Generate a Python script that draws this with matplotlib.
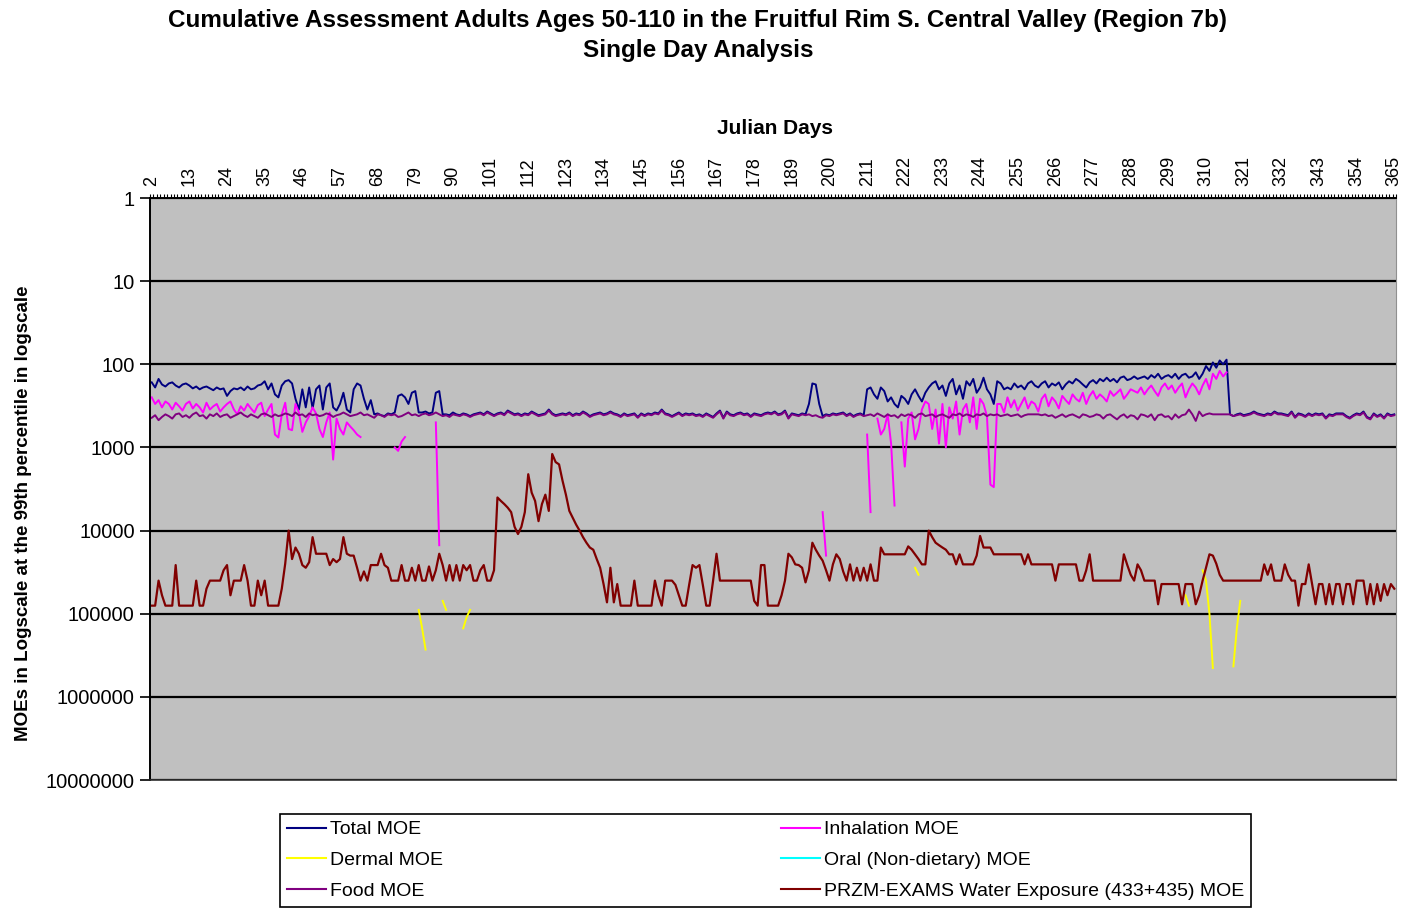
import numpy as np
import matplotlib.pyplot as plt
from matplotlib.lines import Line2D

plt.rcParams["font.family"] = ["Liberation Sans", "DejaVu Sans"]

nan = np.nan
days = np.arange(2, 366)
tick_days = list(range(2, 366, 11))
y_ticks = [1, 10, 100, 1000, 10000, 100000, 1000000, 10000000]
y_labels = ["1", "10", "100", "1000", "10000", "100000", "1000000", "10000000"]

# Food MOE, one value per day 2..365
food_moe = [
    440, 410, 470, 430, 400, 420, 450, 400, 390, 430,
    410, 440, 400, 380, 420, 410, 450, 400, 420, 390,
    430, 410, 400, 440, 420, 400, 380, 410, 430, 400,
    420, 440, 400, 390, 410, 430, 400, 420, 410, 390,
    400, 420, 380, 410, 400, 430, 390, 410, 400, 420,
    410, 390, 400, 430, 410, 400, 380, 400, 420, 410,
    400, 380, 410, 400, 420, 440, 400, 410, 430, 400,
    410, 400, 430, 420, 400, 380, 410, 400, 420, 400,
    390, 410, 400, 380, 400, 420, 410, 430, 400, 410,
    420, 400, 410, 430, 410, 400, 390, 410, 380, 400,
    420, 400, 390, 410, 370, 390, 410, 400, 420, 400,
    410, 380, 400, 420, 410, 400, 360, 400, 420, 410,
    400, 410, 390, 420, 400, 410, 380, 400, 430, 410,
    400, 390, 410, 400, 380, 400, 410, 430, 400, 420,
    410, 400, 440, 400, 420, 400, 410, 390, 400, 360,
    400, 410, 430, 410, 390, 420, 400, 410, 400, 420,
    410, 430, 400, 420, 440, 400, 370, 450, 380, 410,
    420, 400, 390, 410, 400, 430, 400, 410, 420, 400,
    390, 400, 380, 410, 400, 370, 450, 400, 410, 420,
    400, 410, 400, 420, 410, 430, 440, 410, 420, 400,
    410, 400, 390, 420, 400, 430, 410, 400, 420, 410,
    400, 420, 390, 410, 430, 400, 420, 410, 440, 400,
    420, 400, 410, 440, 400, 390, 420, 410, 400, 430,
    410, 400, 420, 440, 400, 410, 390, 420, 400, 410,
    430, 400, 410, 390, 420, 400, 410, 400, 420, 410,
    400, 420, 410, 400, 430, 410, 400, 400, 400, 400,
    410, 400, 420, 410, 440, 420, 400, 430, 410, 400,
    420, 440, 400, 410, 430, 420, 400, 410, 450, 410,
    400, 430, 460, 420, 400, 440, 410, 420, 460, 400,
    410, 430, 400, 470, 410, 400, 430, 420, 460, 400,
    440, 410, 400, 350, 400, 480, 370, 420, 400, 390,
    400, 400, 400, 400, 400, 400, 420, 410, 400, 420,
    410, 400, 380, 400, 410, 420, 400, 410, 380, 400,
    400, 410, 420, 380, 440, 400, 410, 430, 400, 420,
    400, 410, 400, 450, 410, 420, 400, 400, 400, 430,
    450, 420, 400, 410, 380, 440, 460, 400, 430, 410,
    450, 400, 420, 410,
]

# Total MOE, one value per day 2..365
total_moe = [
    165, 190, 150, 175, 185, 170, 165, 180, 190, 175,
    170, 180, 195, 185, 200, 190, 185, 195, 205, 190,
    200, 195, 240, 210, 195, 200, 190, 205, 185, 200,
    195, 180, 175, 160, 200, 170, 230, 250, 180, 160,
    155, 170, 260, 350, 200, 330, 190, 340, 200, 180,
    350, 190, 170, 330, 360, 300, 220, 350, 380, 200,
    170, 180, 260, 350, 270, 400, 390, 410, 420, 390,
    400, 380, 240, 230, 250, 300, 220, 210, 380, 380,
    370, 390, 380, 220, 210, 400, 400, 410, 380, 400,
    410, 390, 400, 420, 400, 390, 380, 400, 370, 390,
    410, 390, 380, 400, 360, 380, 400, 390, 410, 390,
    400, 370, 390, 410, 400, 390, 350, 390, 410, 400,
    390, 400, 380, 410, 390, 400, 370, 390, 420, 400,
    390, 380, 400, 390, 370, 390, 400, 420, 390, 410,
    400, 390, 430, 390, 410, 390, 400, 380, 390, 350,
    390, 400, 420, 400, 380, 410, 390, 400, 390, 410,
    400, 420, 390, 410, 430, 390, 360, 440, 370, 400,
    410, 390, 380, 400, 390, 420, 390, 400, 410, 390,
    380, 390, 370, 400, 390, 360, 440, 390, 400, 410,
    390, 400, 300, 170, 175, 300, 420, 400, 410, 390,
    400, 390, 380, 410, 390, 420, 400, 390, 410, 200,
    190, 230, 260, 190, 210, 280, 250, 300, 330, 240,
    260, 300, 230, 200, 240, 280, 220, 190, 170, 160,
    200, 180, 240, 170, 150, 230, 180, 260, 160, 180,
    150, 220, 190, 145, 200, 230, 300, 160, 170, 200,
    190, 200, 170, 190, 180, 200, 170, 160, 180, 190,
    170, 160, 190, 170, 180, 165, 200, 175, 160, 170,
    150, 160, 175, 190, 165, 155, 170, 150, 160, 145,
    160, 150, 165, 145, 140, 155, 150, 140, 150, 145,
    140, 150, 135, 145, 130, 150, 140, 135, 145, 130,
    150, 135, 130, 145, 140, 125, 150, 130, 105, 120,
    95, 110, 90, 100, 88, 400, 420, 400, 390, 410,
    400, 390, 370, 390, 400, 410, 390, 400, 370, 390,
    390, 400, 410, 370, 430, 390, 400, 420, 390, 410,
    390, 400, 390, 440, 400, 410, 390, 390, 390, 420,
    440, 410, 390, 400, 370, 430, 450, 390, 420, 400,
    440, 390, 410, 400,
]

# PRZM-EXAMS water exposure MOE, one value per day 2..365
water_moe = [
    8e4, 8e4, 4e4, 6e4, 8e4, 8e4, 8e4, 2.6e4, 8e4, 8e4,
    8e4, 8e4, 8e4, 4e4, 8e4, 8e4, 5e4, 4e4, 4e4, 4e4,
    4e4, 3e4, 2.6e4, 6e4, 4e4, 4e4, 4e4, 2.6e4, 4e4, 8e4,
    8e4, 4e4, 6e4, 4e4, 8e4, 8e4, 8e4, 8e4, 5e4, 2.5e4,
    1e4, 2.2e4, 1.6e4, 1.9e4, 2.6e4, 2.8e4, 2.4e4, 1.2e4, 1.9e4, 1.9e4,
    1.9e4, 1.9e4, 2.6e4, 2.2e4, 2.4e4, 2.2e4, 1.2e4, 1.9e4, 2e4, 2e4,
    2.8e4, 4e4, 3.1e4, 4e4, 2.6e4, 2.6e4, 2.6e4, 1.9e4, 2.6e4, 2.8e4,
    4e4, 4e4, 4e4, 2.6e4, 4e4, 4e4, 2.8e4, 4e4, 2.6e4, 4e4,
    4e4, 2.7e4, 4e4, 3e4, 1.9e4, 2.6e4, 4e4, 2.6e4, 4e4, 2.6e4,
    4e4, 2.6e4, 3e4, 2.6e4, 4e4, 4e4, 3e4, 2.6e4, 4e4, 4e4,
    3e4, 4e3, 4.4e3, 4.8e3, 5.3e3, 6e3, 9e3, 1.1e4, 9e3, 6e3,
    2.1e3, 3.5e3, 4.4e3, 7.7e3, 4.8e3, 3.7e3, 5.8e3, 1.2e3, 1.5e3, 1.6e3,
    2.5e3, 3.7e3, 5.8e3, 7e3, 8.5e3, 1e4, 1.2e4, 1.4e4, 1.6e4, 1.7e4,
    2.2e4, 2.8e4, 4.4e4, 7.3e4, 2.8e4, 7.3e4, 4.4e4, 8e4, 8e4, 8e4,
    8e4, 4e4, 8e4, 8e4, 8e4, 8e4, 8e4, 4e4, 6e4, 8e4,
    4e4, 4e4, 4e4, 4.5e4, 6e4, 8e4, 8e4, 4.5e4, 2.6e4, 2.8e4,
    2.6e4, 4.5e4, 8e4, 8e4, 4e4, 1.9e4, 4e4, 4e4, 4e4, 4e4,
    4e4, 4e4, 4e4, 4e4, 4e4, 4e4, 7e4, 8e4, 2.6e4, 2.6e4,
    8e4, 8e4, 8e4, 8e4, 6e4, 4e4, 1.9e4, 2.1e4, 2.55e4, 2.6e4,
    2.8e4, 4.2e4, 3e4, 1.4e4, 1.7e4, 2e4, 2.3e4, 3e4, 4e4, 2.55e4,
    1.93e4, 2.2e4, 3.1e4, 4e4, 2.55e4, 4e4, 2.8e4, 4e4, 2.8e4, 4e4,
    2.55e4, 4e4, 4e4, 1.6e4, 1.93e4, 1.93e4, 1.93e4, 1.93e4, 1.93e4, 1.93e4,
    1.93e4, 1.55e4, 1.7e4, 1.93e4, 2.2e4, 2.55e4, 2.55e4, 1e4, 1.2e4, 1.4e4,
    1.5e4, 1.6e4, 1.7e4, 1.93e4, 1.93e4, 2.55e4, 1.93e4, 2.55e4, 2.55e4, 2.55e4,
    2.55e4, 2e4, 1.16e4, 1.6e4, 1.6e4, 1.6e4, 1.93e4, 1.93e4, 1.93e4, 1.93e4,
    1.93e4, 1.93e4, 1.93e4, 1.93e4, 1.93e4, 2.55e4, 1.93e4, 2.55e4, 2.55e4, 2.55e4,
    2.55e4, 2.55e4, 2.55e4, 2.55e4, 4e4, 2.55e4, 2.55e4, 2.55e4, 2.55e4, 2.55e4,
    2.55e4, 4e4, 4e4, 3e4, 1.93e4, 4e4, 4e4, 4e4, 4e4, 4e4,
    4e4, 4e4, 4e4, 4e4, 1.93e4, 2.6e4, 3.4e4, 4e4, 2.55e4, 3e4,
    4e4, 4e4, 4e4, 4e4, 7.7e4, 4.4e4, 4.4e4, 4.4e4, 4.4e4, 4.4e4,
    4.4e4, 7.7e4, 4.4e4, 4.4e4, 4.4e4, 7.7e4, 6e4, 4e4, 2.8e4, 1.93e4,
    2e4, 2.5e4, 3.4e4, 4e4, 4e4, 4e4, 4e4, 4e4, 4e4, 4e4,
    4e4, 4e4, 4e4, 4e4, 4e4, 2.55e4, 3.4e4, 2.55e4, 4e4, 4e4,
    4e4, 2.55e4, 3.4e4, 4e4, 4e4, 8e4, 4.4e4, 4.4e4, 2.55e4, 4.4e4,
    7.7e4, 4.4e4, 4.4e4, 7.7e4, 4.4e4, 7.7e4, 4.4e4, 4.4e4, 7.7e4, 4.4e4,
    4.4e4, 7.7e4, 4e4, 4e4, 4e4, 7.7e4, 4.4e4, 7.7e4, 4.4e4, 7e4,
    4.4e4, 6e4, 4.4e4, 5e4,
]

# Inhalation MOE: first day of each run -> values (no value on other days)
inhalation_runs = {
    2: [250, 300, 270, 330, 280, 300, 350, 290, 320, 360,
        300, 280, 340, 300, 330, 380, 290, 350, 320, 300,
        370, 330, 300, 280, 350, 400, 320, 360, 300, 340,
        380, 310, 290, 420, 350, 300, 700, 760, 400, 290,
        600, 620, 300, 380, 650, 500, 420, 330, 390, 600,
        750, 500, 380, 1400, 450, 600, 700, 500, 560, 620,
        700, 750],
    73: [1000, 1100, 850, 750],
    85: [500, 15000],
    198: [6000, 20000],
    211: [700, 6000],
    214: [450, 700, 600, 400, 900, 5000],
    221: [500, 1700, 450, 380, 800, 600, 350, 280, 300, 600,
          350, 900, 300, 1000, 330, 450, 280, 700, 350, 300,
          500, 250, 600, 260, 300, 420, 2800, 3000, 300,
          300, 380, 250, 330, 270, 360, 300, 250, 340, 280,
          300, 370, 260, 230, 320, 250, 280, 340, 240, 270,
          300, 230, 260, 280, 220, 300, 240, 210, 260, 230,
          250, 280, 210, 240, 220, 200, 260, 230, 200, 210,
          220, 190, 230, 200, 180, 210, 240, 190, 170, 200,
          180, 220, 190, 170, 250, 200, 170, 190, 230, 180,
          150, 200, 130, 150, 120, 140, 125],
}

# Dermal MOE runs
dermal_runs = {
    80: [9e4, 1.5e5, 2.7e5],
    87: [7e4, 9e4],
    93: [1.5e5, 1.1e5, 9e4],
    225: [2.8e4, 3.4e4],
    304: [6e4, 8e4],
    309: [3e4, 4e4, 1e5, 4.5e5],
    318: [4.3e5, 1.5e5, 7e4],
}


def from_runs(runs):
    out = np.full(len(days), nan)
    for start, vals in runs.items():
        i = start - days[0]
        out[i:i + len(vals)] = vals
    return out


inhalation_moe = from_runs(inhalation_runs)
dermal_moe = from_runs(dermal_runs)
oral_moe = np.full(len(days), nan)  # no oral values plotted

fig = plt.figure(figsize=(14.06, 9.13), dpi=100)
ax = fig.add_axes([150 / 1406, 1 - 780 / 913, 1246 / 1406, 582 / 913])
ax.set_facecolor("#C0C0C0")

lw = 1.4
ax.plot(days, total_moe, color="#000080", lw=lw, label="Total MOE")
ax.plot(days, inhalation_moe, color="#FF00FF", lw=lw, label="Inhalation MOE")
ax.plot(days, dermal_moe, color="#FFFF00", lw=lw, label="Dermal MOE")
ax.plot(days, oral_moe, color="#00FFFF", lw=lw, label="Oral (Non-dietary) MOE")
ax.plot(days, food_moe, color="#800080", lw=lw, label="Food MOE")
ax.plot(days, water_moe, color="#800000", lw=1.6,
        label="PRZM-EXAMS Water Exposure (433+435) MOE")

ax.set_yscale("log")
ax.set_ylim(1e7, 1)
ax.set_yticks(y_ticks)
ax.set_yticklabels(y_labels, fontsize=14.5)
ax.yaxis.set_minor_locator(plt.NullLocator())
ax.tick_params(axis="y", direction="out", length=7, width=1.2, color="black", pad=4)
ax.grid(axis="y", which="major", color="black", lw=1.6)
ax.set_axisbelow(True)

ax.set_xlim(1.5, 365.5)
ax.xaxis.tick_top()
ax.set_xticks(tick_days)
ax.set_xticklabels([str(d) for d in tick_days], rotation=90, fontsize=13)
ax.set_xticks(np.arange(1.5, 366, 1), minor=True)
ax.tick_params(axis="x", which="major", length=0, pad=9)
ax.tick_params(axis="x", which="minor", direction="out", length=3, width=0.8, color="black")

ax.spines["left"].set_color("black")
ax.spines["left"].set_linewidth(1.4)
ax.spines["top"].set_color("black")
ax.spines["top"].set_linewidth(1.4)
ax.spines["right"].set_color("#909090")
ax.spines["bottom"].set_color("#303030")
ax.spines["bottom"].set_linewidth(1.2)

fig.text(0.4964, 1 - 20 / 913, "Cumulative Assessment Adults Ages 50-110 in the Fruitful Rim S. Central Valley (Region 7b)",
         ha="center", va="center", fontsize=17.5, fontweight="bold")
fig.text(0.4964, 1 - 51 / 913, "Single Day Analysis",
         ha="center", va="center", fontsize=17.5, fontweight="bold")
fig.text(775 / 1406, 1 - 128 / 913, "Julian Days", ha="center", va="center",
         fontsize=15, fontweight="bold")
fig.text(24 / 1406, 1 - 513 / 913, "MOEs in Logscale at the 99th percentile in logscale",
         ha="center", va="center", rotation=90, fontsize=13.5, fontweight="bold")

h = {l.get_label(): l for l in ax.get_lines()}
order = ["Total MOE", "Dermal MOE", "Food MOE", "Inhalation MOE",
         "Oral (Non-dietary) MOE", "PRZM-EXAMS Water Exposure (433+435) MOE"]
handles = [Line2D([], [], color=h[k].get_color(), lw=1.5) for k in order]
leg = fig.legend(handles, order, ncol=2,
                 loc="upper left",
                 bbox_to_anchor=(280 / 1406, 1 - 814 / 913),
                 fontsize=14, frameon=True, fancybox=False, edgecolor="black",
                 facecolor="white", framealpha=1,
                 borderpad=0.35, labelspacing=0.68, handlelength=2.0,
                 handletextpad=0.2, borderaxespad=0, columnspacing=17.4)
leg.get_frame().set_linewidth(1.2)

fig.savefig("out.png", dpi=100)
plt.close(fig)
